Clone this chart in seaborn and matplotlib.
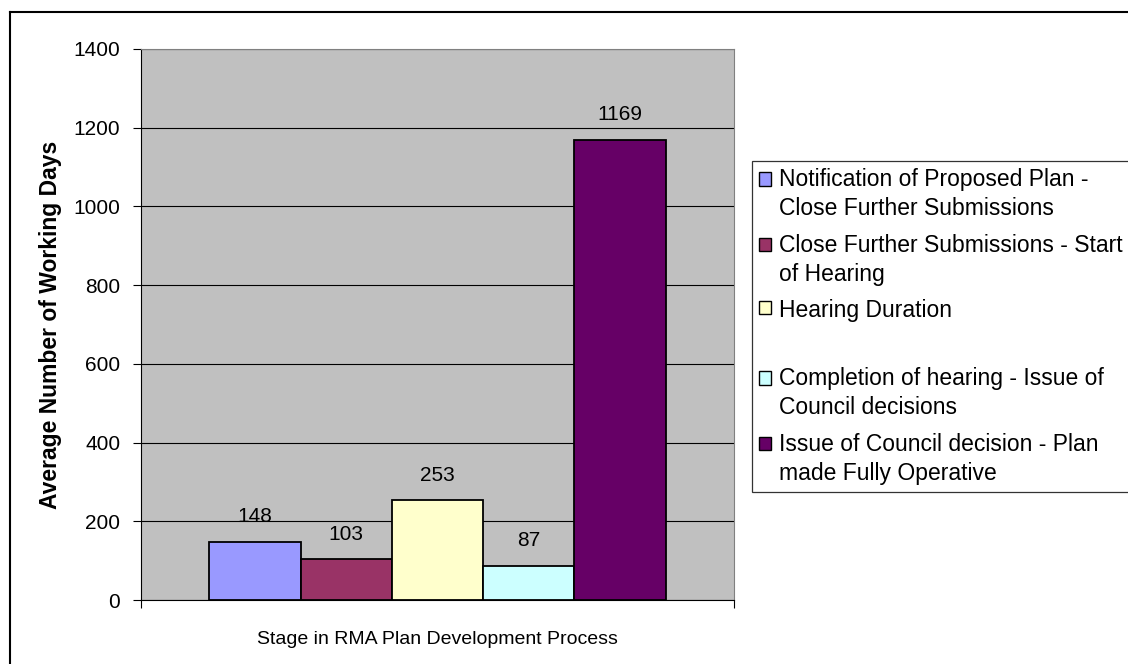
import seaborn as sns
import matplotlib.pyplot as plt
import pandas as pd
from matplotlib.patches import Rectangle
from matplotlib.legend_handler import HandlerPatch

stages = [
    "Notification of Proposed Plan -\nClose Further Submissions",
    "Close Further Submissions - Start\nof Hearing",
    "Hearing Duration",
    "Completion of hearing - Issue of\nCouncil decisions",
    "Issue of Council decision - Plan\nmade Fully Operative",
]
days = [148, 103, 253, 87, 1169]
colors = ["#9999FF", "#993366", "#FFFFCC", "#CCFFFF", "#660066"]

df = pd.DataFrame({"group": [""] * len(stages), "stage": stages, "days": days})

plt.rcParams["font.family"] = ["Liberation Sans", "DejaVu Sans"]

fig = plt.figure(figsize=(11.28, 6.64), dpi=100)
ax = fig.add_axes([141 / 1128, 1 - 600 / 664, (734 - 141) / 1128, (600 - 49) / 664])

sns.barplot(data=df, x="group", y="days", hue="stage", palette=colors,
            saturation=1, width=0.77, gap=0, edgecolor="black", linewidth=1.3,
            legend=False, ax=ax, zorder=3)

ax.set_facecolor("#C0C0C0")
ax.set_ylim(0, 1400)
ax.set_yticks(range(0, 1401, 200))
ax.set_xlim(-0.5, 0.5)
ax.set_xticks([-0.5, 0.5])
ax.set_xticklabels([])
ax.grid(axis="y", color="#000000", linewidth=0.8, zorder=1)
ax.grid(axis="x", visible=False)
ax.set_axisbelow(True)
for s in ["top", "right"]:
    ax.spines[s].set_color("#808080")
ax.spines["left"].set_color("black")
ax.spines["bottom"].set_color("black")
ax.tick_params(axis="y", length=6, labelsize=15, pad=9)
ax.tick_params(axis="x", length=6)

ax.set_ylabel("Average Number of Working Days", fontsize=16.5, fontweight="bold", labelpad=8)
ax.set_xlabel("Stage in RMA Plan Development Process", fontsize=14, labelpad=13)

for bars in ax.containers:
    for bar in bars:
        h = bar.get_height()
        ax.annotate(f"{int(h)}", (bar.get_x() + bar.get_width() / 2, h),
                    xytext=(0, 18), textcoords="offset points",
                    ha="center", va="center", fontsize=15)


# legend key sits on the first line of a two-line label, like Excel
def key_box(legend, orig_handle, xdescent, ydescent, width, height, fontsize):
    dy = getattr(orig_handle, "_lift", 0)
    return Rectangle((-xdescent, -ydescent + dy), width, height)


handles = []
for c, s in zip(colors, stages):
    r = Rectangle((0, 0), 1, 1, facecolor=c, edgecolor="black", linewidth=1)
    r._lift = 11.5 if "\n" in s else 1.5
    handles.append(r)
labels = list(stages)
# Excel leaves an empty slot after "Hearing Duration"
handles.insert(3, Rectangle((0, 0), 1, 1, facecolor="none", edgecolor="none"))
labels.insert(3, " ")
leg = fig.legend(handles, labels, loc="upper left",
                 bbox_to_anchor=(752 / 1128, 1 - 161 / 664),
                 fontsize=16.5, frameon=True, fancybox=False,
                 edgecolor="black", borderpad=0.3, labelspacing=0.58,
                 handlelength=0.52, handleheight=0.52, handletextpad=0.35,
                 borderaxespad=0,
                 handler_map={Rectangle: HandlerPatch(patch_func=key_box)})
leg.get_frame().set_linewidth(0.9)
for t in leg.get_texts():
    t.set_linespacing(1.36)
leg.get_texts()[3].set_fontsize(10.5)

fig.add_artist(plt.Line2D([10 / 1128, 10 / 1128], [0, 1 - 12 / 664], color="black", linewidth=1.5))
fig.add_artist(plt.Line2D([10 / 1128, 1], [1 - 12 / 664, 1 - 12 / 664], color="black", linewidth=1.5))

fig.savefig("out.png", dpi=100)
